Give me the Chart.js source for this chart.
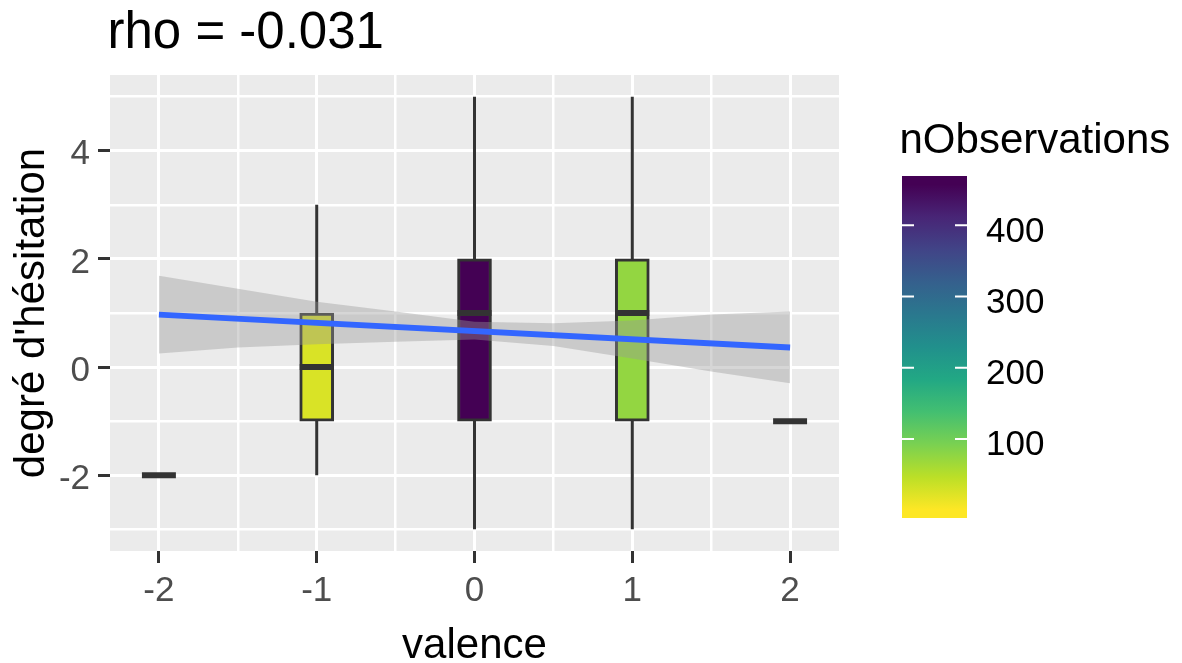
<!DOCTYPE html>
<html>
<head>
<meta charset="utf-8">
<script src="https://cdn.jsdelivr.net/npm/chart.js@4/dist/chart.umd.min.js"></script>
<style>
  body { margin: 0; background: #fff; }
</style>
</head>
<body>
<canvas id="myChart" width="1182" height="663"></canvas>
<script>
// boxplot stats per valence
var valence = [-2, -1, 0, 1, 2];
var yMin = [-2, -2, -3, -3, -1];
var q1 = [-2, -1, -1, -1, -1];
var med = [-2, 0, 1, 1, -1];
var q3 = [-2, 1, 2, 2, -1];
var yMax = [-2, 3, 5, 5, -1];
var nObs = [1, 26, 457, 75, 1];

// linear fit + confidence band
var fitX = [-2, 2];
var fitY = [0.97, 0.36];
var bandX = [-2, -1.5, -1, -0.5, 0, 0.5, 1, 1.5, 2];
var bandHi = [1.69, 1.45, 1.21, 1.03, 0.84, 0.81, 0.86, 0.97, 1.03];
var bandLo = [0.25, 0.36, 0.42, 0.47, 0.51, 0.39, 0.16, -0.08, -0.30];

var xTicks = [-2, -1.5, -1, -0.5, 0, 0.5, 1, 1.5, 2];
var yTicks = [-3, -2, -1, 0, 1, 2, 3, 4, 5];
var legendTicks = [100, 200, 300, 400];

var FONT = '"Liberation Sans", Arial, sans-serif';
var boxHalf = 0.1076;

var viridis = ["#440154","#482576","#414487","#35608D","#2A788E","#21908C","#22A884","#43BF71","#7AD151","#BBDF27","#FDE725"];
function hexRgb(h) {
  return [parseInt(h.substr(1,2),16), parseInt(h.substr(3,2),16), parseInt(h.substr(5,2),16)];
}
function viridisAt(t) {
  t = Math.max(0, Math.min(1, t));
  var p = t * 10, i = Math.min(9, Math.floor(p)), f = p - i;
  var a = hexRgb(viridis[i]), b = hexRgb(viridis[i+1]);
  return 'rgb(' + Math.round(a[0]+(b[0]-a[0])*f) + ',' + Math.round(a[1]+(b[1]-a[1])*f) + ',' + Math.round(a[2]+(b[2]-a[2])*f) + ')';
}
var nLo = Math.min.apply(null, nObs), nHi = Math.max.apply(null, nObs);
function countColor(n) { return viridisAt(1 - (n - nLo) / (nHi - nLo)); }

function isMajorX(v) { return Number.isInteger(v); }
function isMajorY(v) { return v % 2 === 0; }

var datasets = [];
// fitted line on top
datasets.push({
  type: 'line', data: fitX.map(function(x, i){ return {x: x, y: fitY[i]}; }),
  borderColor: '#3366FF', borderWidth: 6, pointRadius: 0, fill: false, order: 0
});
// band
datasets.push({
  type: 'line', data: bandX.map(function(x, i){ return {x: x, y: bandHi[i]}; }),
  borderColor: 'rgba(0,0,0,0)', borderWidth: 1, pointRadius: 0, fill: false, order: 1
});
datasets.push({
  type: 'line', data: bandX.map(function(x, i){ return {x: x, y: bandLo[i]}; }),
  borderColor: 'rgba(0,0,0,0)', borderWidth: 1, pointRadius: 0, fill: '-1',
  backgroundColor: 'rgba(153,153,153,0.4)', order: 1
});
// medians
valence.forEach(function(v, i) {
  datasets.push({
    type: 'line', data: [{x: v - boxHalf, y: med[i]}, {x: v + boxHalf, y: med[i]}],
    borderColor: '#333333', borderWidth: 6, borderCapStyle: 'butt', pointRadius: 0, fill: false, order: 2
  });
});
// boxes
datasets.push({
  type: 'bar',
  data: valence.map(function(v, i){ return {x: v, y: [q1[i], q3[i]]}; }),
  backgroundColor: nObs.map(countColor),
  borderColor: '#333333', borderWidth: 3, borderSkipped: false,
  barThickness: 34, order: 3
});
// whiskers
valence.forEach(function(v, i) {
  datasets.push({
    type: 'line', data: [{x: v, y: yMin[i]}, {x: v, y: yMax[i]}],
    borderColor: '#333333', borderWidth: 3, pointRadius: 0, fill: false, order: 4
  });
});

var panelBg = {
  id: 'panelBg',
  beforeDraw: function(chart) {
    var a = chart.chartArea, c = chart.ctx;
    c.save();
    c.fillStyle = '#EBEBEB';
    c.fillRect(a.left, a.top, a.right - a.left, a.bottom - a.top);
    c.restore();
  }
};

var labelsAndLegend = {
  id: 'labelsAndLegend',
  afterDraw: function(chart) {
    var a = chart.chartArea, c = chart.ctx;
    c.save();
    c.fillStyle = '#000000';
    c.textBaseline = 'alphabetic';
    // title
    c.textAlign = 'left';
    c.font = '51px ' + FONT;
    c.fillText('rho = -0.031', 107.5, 48);
    // axis titles
    c.font = '42px ' + FONT;
    c.textAlign = 'center';
    c.fillText('valence', (a.left + a.right) / 2, 658);
    c.save();
    c.translate(44, (a.top + a.bottom) / 2);
    c.rotate(-Math.PI / 2);
    c.fillText("degré d'hésitation", 0, 0);
    c.restore();

    // colour bar legend
    var bx = 902, bw = 65, by = 176, bh = 342, pad = bh / 40;
    var y0 = by + bh - pad, y1 = by + pad;
    var g = c.createLinearGradient(0, y0, 0, y1);
    for (var k = 0; k <= 10; k++) g.addColorStop(k / 10, viridis[10 - k]);
    c.fillStyle = g;
    c.fillRect(bx, by, bw, bh);

    c.textAlign = 'left';
    c.font = '42px ' + FONT;
    c.fillStyle = '#000000';
    c.fillText('nObservations', 899.5, 153);

    c.font = '35px ' + FONT;
    legendTicks.forEach(function(v) {
      var y = y0 - (v - nLo) / (nHi - nLo) * (y0 - y1);
      c.strokeStyle = '#FFFFFF';
      c.lineWidth = 2;
      c.beginPath();
      c.moveTo(bx, y); c.lineTo(bx + 12, y);
      c.moveTo(bx + bw - 12, y); c.lineTo(bx + bw, y);
      c.stroke();
      c.fillStyle = '#000000';
      c.fillText(String(v), 986, y + 16.5);
    });
    c.restore();
  }
};

new Chart('myChart', {
  type: 'bar',
  data: { datasets: datasets },
  plugins: [panelBg, labelsAndLegend],
  options: {
    responsive: false,
    animation: false,
    layout: { padding: { top: 75, right: 343, left: 0, bottom: 0 } },
    plugins: {
      legend: { display: false },
      tooltip: { enabled: false },
      title: { display: false }
    },
    scales: {
      x: {
        type: 'linear', min: -2.31, max: 2.31, offset: false,
        afterBuildTicks: function(s) { s.ticks = xTicks.map(function(v){ return {value: v}; }); },
        afterFit: function(s) { s.height = 112; },
        grid: {
          color: '#FFFFFF', offset: false,
          lineWidth: function(ctx) { return ctx.tick && isMajorX(ctx.tick.value) ? 3 : 2.5; },
          tickLength: 12, tickWidth: 3,
          tickColor: function(ctx) { return ctx.tick && isMajorX(ctx.tick.value) ? '#333333' : 'rgba(0,0,0,0)'; }
        },
        border: { display: false },
        ticks: {
          autoSkip: false, maxRotation: 0, padding: 7, color: '#4D4D4D',
          font: { family: FONT, size: 35, lineHeight: 1.2 },
          callback: function(v) { return isMajorX(v) ? String(v) : ''; }
        }
      },
      y: {
        type: 'linear', min: -3.4, max: 5.4,
        afterBuildTicks: function(s) { s.ticks = yTicks.map(function(v){ return {value: v}; }); },
        afterFit: function(s) { s.width = 110; },
        grid: {
          color: '#FFFFFF',
          lineWidth: function(ctx) { return ctx.tick && isMajorY(ctx.tick.value) ? 3 : 2.5; },
          tickLength: 12, tickWidth: 3,
          tickColor: function(ctx) { return ctx.tick && isMajorY(ctx.tick.value) ? '#333333' : 'rgba(0,0,0,0)'; }
        },
        border: { display: false },
        ticks: {
          autoSkip: false, padding: 8, labelOffset: 4, color: '#4D4D4D',
          font: { family: FONT, size: 35, lineHeight: 1.2 },
          callback: function(v) { return isMajorY(v) ? String(v) : ''; }
        }
      }
    }
  }
});
</script>
</body>
</html>
